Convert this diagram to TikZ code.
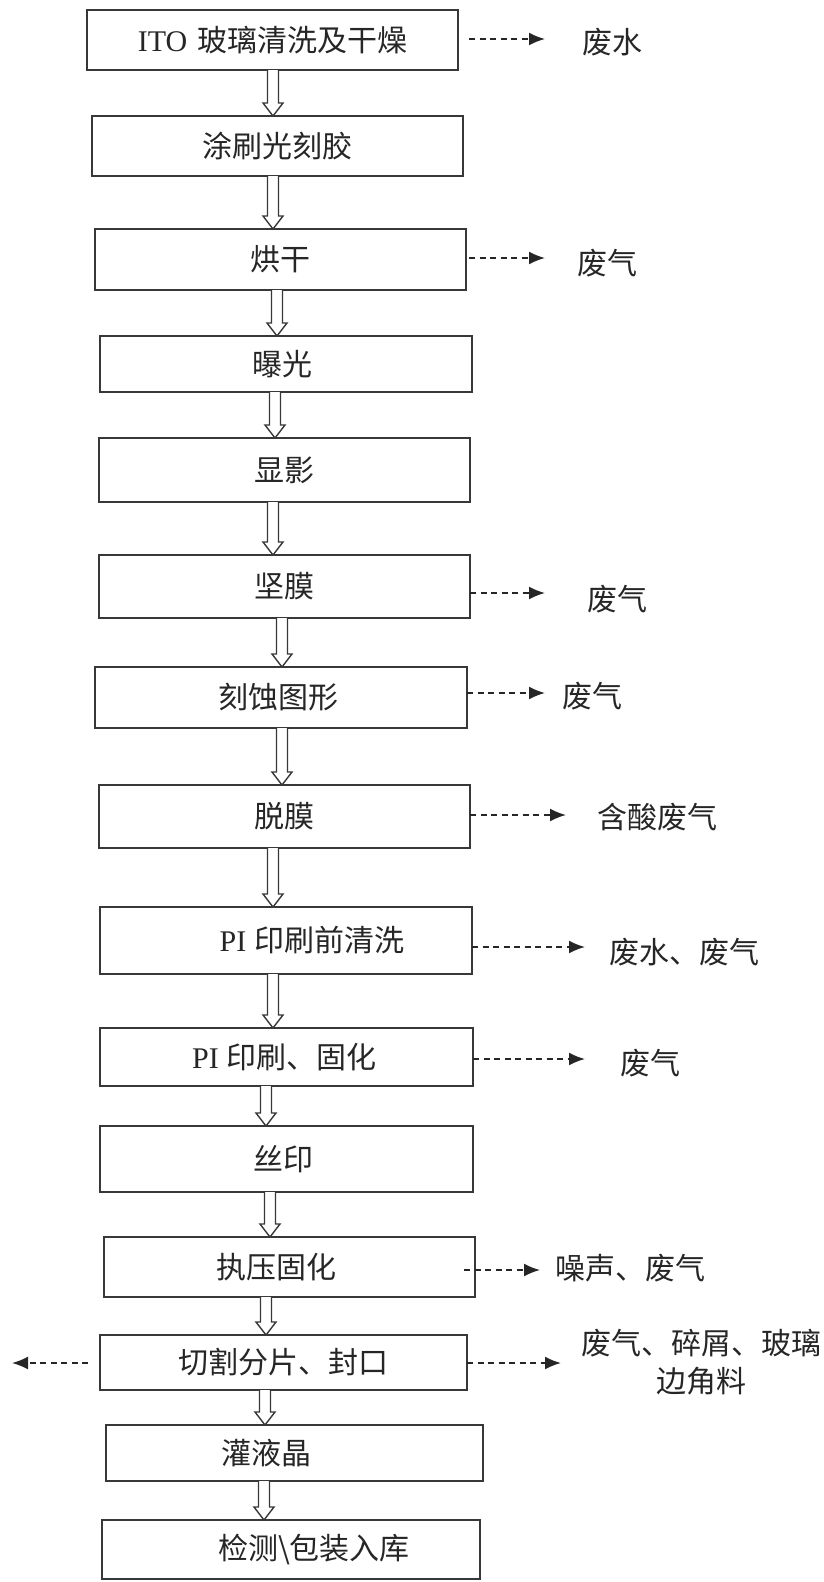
\documentclass[tikz,border=0pt]{standalone}
\usepackage{fontspec}
\setmainfont{Liberation Serif}
\newfontfamily\cjk{Noto Sans CJK SC}
\newfontfamily\latf{Liberation Serif}
\usetikzlibrary{arrows.meta,calc}
\newcommand\lat[1]{{\fontsize{30}{36}\selectfont\latf #1}}
\tikzset{
  proc/.style={draw=black!78, line width=1.8pt, fill=white, inner sep=0pt, outer sep=0pt,
    text=black!85, font=\fontsize{30}{36}\selectfont\cjk},
  lab/.style={inner sep=0pt, text=black!85, font=\fontsize{30}{38}\selectfont\cjk, align=center},
  harrow/.style={draw=black!78, line width=1.4pt, fill=white, line join=miter},
  dasharrow/.style={draw=black!85, line width=1.8pt, dash pattern=on 6pt off 4.5pt,
    -{Latex[length=16pt,width=13pt]}}
}
\newcommand\hollowarrow[3]{%
  \coordinate (hx) at (#3,0);
  \coordinate (hT) at (#1.south -| hx);
  \coordinate (hB) at (#2.north -| hx);
  \draw[harrow] ($(hT)+(-5.5,0)$) -- ($(hB)+(-5.5,-13)$) -- ($(hB)+(-10,-13)$) -- (hB)
     -- ($(hB)+(10,-13)$) -- ($(hB)+(5.5,-13)$) -- ($(hT)+(5.5,0)$);}
\begin{document}
\begin{tikzpicture}[x=1pt,y=-1pt]
\useasboundingbox (0,0) rectangle (824,1582);
% process boxes
\node[proc, minimum width=371pt, minimum height=60pt] (b1) at (272.5,40) {\lat{ITO}\hspace{10pt}玻璃清洗及干燥};
\node[proc, minimum width=371pt, minimum height=60pt] (b2) at (277.5,146) {涂刷光刻胶};
\node[proc, minimum width=371pt, minimum height=61pt] (b3) at (280.5,259.5) {烘干};
\node[proc, minimum width=372pt, minimum height=56pt] (b4) at (286,364) {曝光\hspace*{8pt}};
\node[proc, minimum width=371pt, minimum height=64pt] (b5) at (284.5,470) {显影};
\node[proc, minimum width=371pt, minimum height=63pt] (b6) at (284.5,586.5) {坚膜};
\node[proc, minimum width=372pt, minimum height=61pt] (b7) at (281,697.5) {刻蚀图形\hspace*{6pt}};
\node[proc, minimum width=371pt, minimum height=63pt] (b8) at (284.5,816.5) {脱膜};
\node[proc, minimum width=372pt, minimum height=67pt] (b9) at (286,940.5) {\hspace*{52pt}\lat{PI}\hspace{8pt}印刷前清洗};
\node[proc, minimum width=373pt, minimum height=58pt] (b10) at (286.5,1057) {\lat{PI}\hspace{8pt}印刷、固化\hspace*{4pt}};
\node[proc, minimum width=373pt, minimum height=66pt] (b11) at (286.5,1159) {丝印\hspace*{6pt}};
\node[proc, minimum width=371pt, minimum height=60pt] (b12) at (289.5,1267) {执压固化\hspace*{26pt}};
\node[proc, minimum width=367pt, minimum height=55pt] (b13) at (283.5,1362.5) {切割分片、封口};
\node[proc, minimum width=377pt, minimum height=56pt] (b14) at (294.5,1453) {灌液晶\hspace*{56pt}};
\node[proc, minimum width=378pt, minimum height=59pt] (b15) at (291,1549.5) {\hspace*{46pt}检测\textbackslash 包装入库};
% hollow flow arrows
\hollowarrow{b1}{b2}{273}
\hollowarrow{b2}{b3}{273}
\hollowarrow{b3}{b4}{277}
\hollowarrow{b4}{b5}{275}
\hollowarrow{b5}{b6}{273}
\hollowarrow{b6}{b7}{282}
\hollowarrow{b7}{b8}{282}
\hollowarrow{b8}{b9}{273}
\hollowarrow{b9}{b10}{273}
\hollowarrow{b10}{b11}{266}
\hollowarrow{b11}{b12}{270}
\hollowarrow{b12}{b13}{266}
\hollowarrow{b13}{b14}{265}
\hollowarrow{b14}{b15}{264}
% output labels
\node[lab] (l1) at (612,42) {废水};
\node[lab] (l3) at (607,263) {废气};
\node[lab] (l6) at (617,599) {废气};
\node[lab] (l7) at (592,696) {废气};
\node[lab] (l8) at (657,817) {含酸废气};
\node[lab] (l9) at (684,952) {废水、废气};
\node[lab] (l10) at (650,1063) {废气};
\node[lab] (l12) at (630,1268) {噪声、废气};
\node[lab] (l13) at (701,1362) {废气、碎屑、玻璃\\边角料};
% arrow tips
\coordinate (t1) at (545,39);
\coordinate (t3) at (545,258);
\coordinate (t6) at (545,593);
\coordinate (t7) at (545,693);
\coordinate (t8) at (566,815);
\coordinate (t9) at (585,947);
\coordinate (t10) at (585,1059);
\coordinate (t12) at (540,1270);
\coordinate (t13) at (561,1363);
\coordinate (tL) at (12,1363);
% dashed output arrows
\draw[dasharrow] ($(b1.east |- t1)+(11,0)$) -- (t1);
\draw[dasharrow] ($(b3.east |- t3)+(3,0)$) -- (t3);
\draw[dasharrow] (b6.east |- t6) -- (t6);
\draw[dasharrow] (b7.east |- t7) -- (t7);
\draw[dasharrow] (b8.east |- t8) -- (t8);
\draw[dasharrow] (b9.east |- t9) -- (t9);
\draw[dasharrow] (b10.east |- t10) -- (t10);
\draw[dasharrow] ($(b12.east |- t12)+(-11,0)$) -- (t12);
\draw[dasharrow] (b13.east |- t13) -- (t13);
\draw[dasharrow] ($(b13.west |- tL)+(-12,0)$) -- (tL);
\end{tikzpicture}
\end{document}
